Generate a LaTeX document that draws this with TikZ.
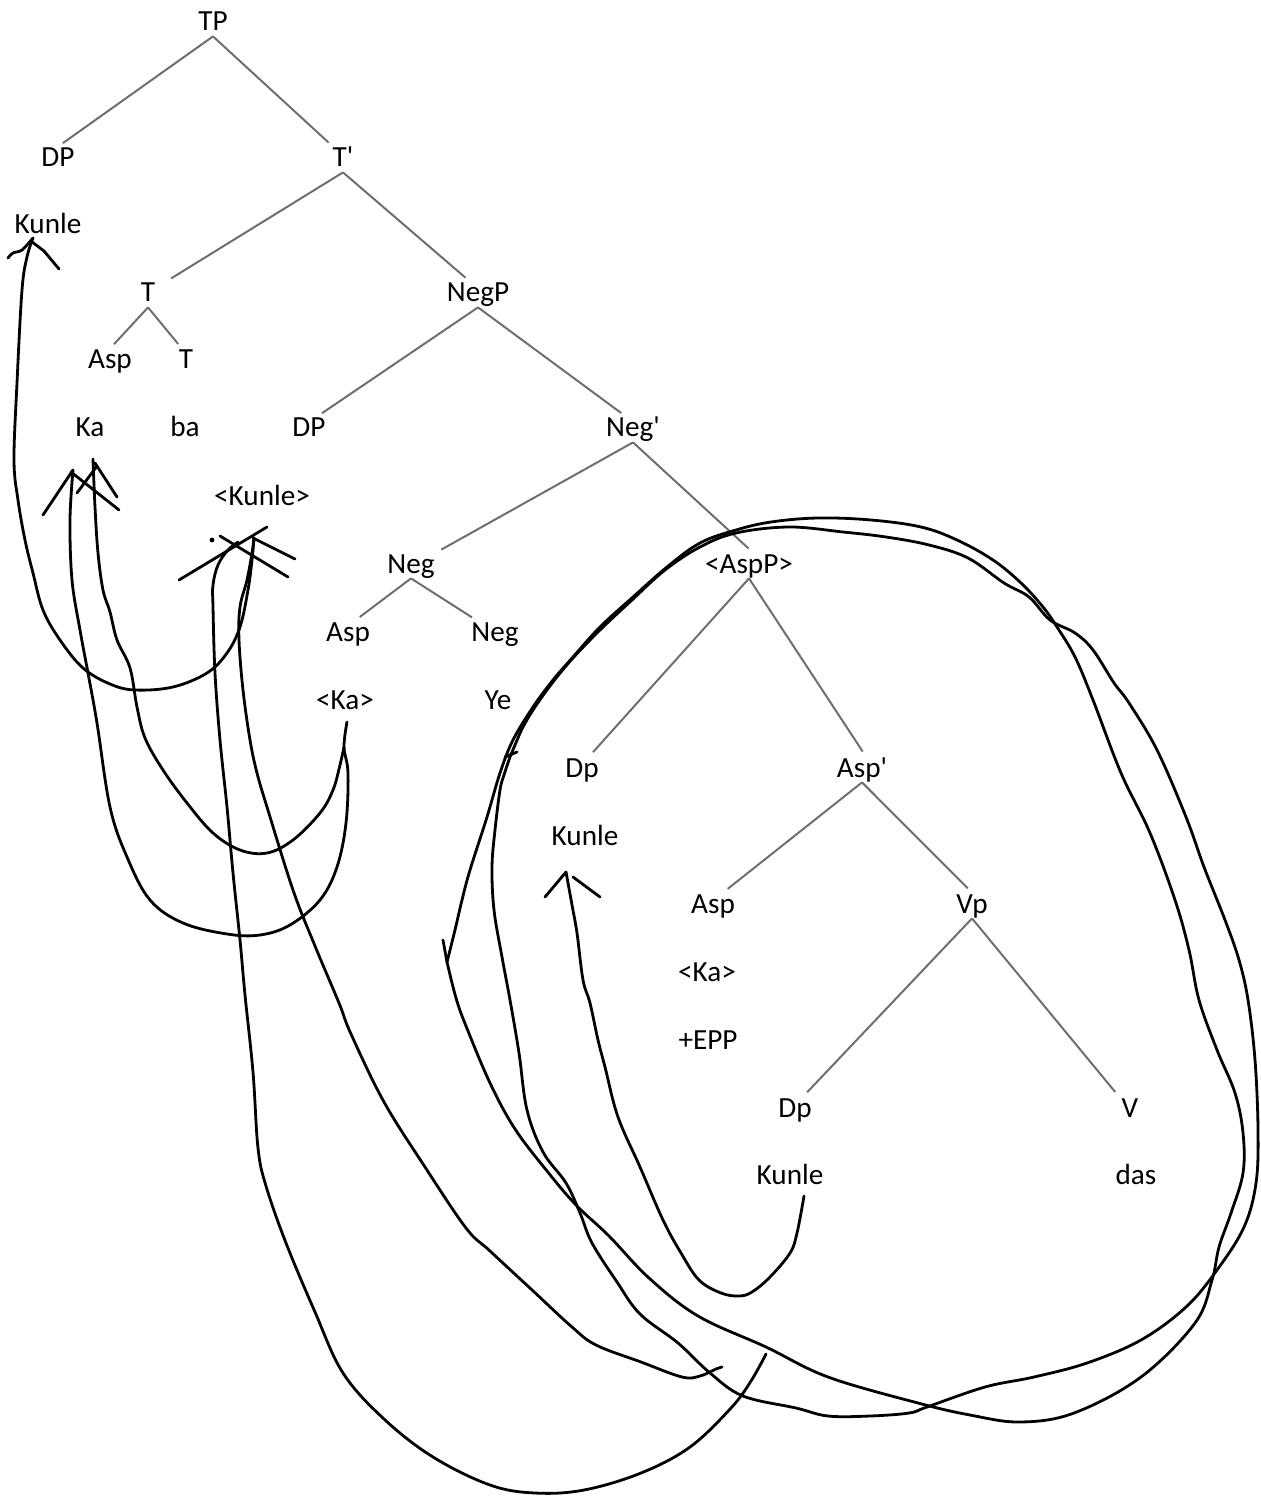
\documentclass[tikz,border=0pt]{standalone}
\usepackage{fontspec}
\setmainfont{Carlito}[Ligatures=TeXOff]
\definecolor{treegray}{RGB}{110,110,110}
\begin{document}
\begin{tikzpicture}[x=0.5pt,y=-0.5pt,
  lbl/.style={anchor=base,inner sep=0pt,text height=10pt,text depth=2.5pt,font=\fontsize{14.6pt}{17pt}\selectfont},
  edge/.style={draw=treegray,line width=1pt,shorten >=3pt},
  ink/.style={draw=black,line width=1.4pt,line cap=round,line join=round},
  curve/.style={ink}]
\useasboundingbox (0,0) rectangle (1261,1497);

% ---------- tree labels ----------
\node[lbl] (TP) at (213,31) {TP};
\node[lbl] (DP1) at (58,167) {DP};
\node[lbl] (Tbar) at (343,167) {T'};
\node[lbl] (Kunle1) at (48,234) {Kunle};
\node[lbl] (T1) at (148,302) {T};
\node[lbl] (NegP) at (478,302) {NegP};
\node[lbl] (Asp1) at (110,369) {Asp};
\node[lbl] (T2) at (186,369) {T};
\node[lbl] (Ka1) at (90,437) {Ka};
\node[lbl] (ba) at (185,437) {ba};
\node[lbl] (DP2) at (309,437) {DP};
\node[lbl] (Negbar) at (633,437) {Neg'};
\node[lbl] (Kunle2) at (262,505) {<Kunle>};
\node[lbl] (Neg1) at (411,573) {Neg};
\node[lbl] (AspP) at (749,573) {<AspP>};
\node[lbl] (Asp2) at (348,641) {Asp};
\node[lbl] (Neg2) at (495,641) {Neg};
\node[lbl] (Ka2) at (345,709) {<Ka>};
\node[lbl] (Ye) at (498,709) {Ye};
\node[lbl] (Dp3) at (582,777) {Dp};
\node[lbl] (Aspbar) at (862,777) {Asp'};
\node[lbl] (Kunle3) at (585,845) {Kunle};
\node[lbl] (Asp3) at (713,913) {Asp};
\node[lbl] (Vp) at (972,913) {Vp};
\node[lbl] (Ka3) at (707,981) {<Ka>};
\node[lbl] (EPP) at (708,1049) {+EPP};
\node[lbl] (Dp4) at (795,1117) {Dp};
\node[lbl] (V) at (1130,1117) {V};
\node[lbl] (Kunle4) at (790,1184) {Kunle};
\node[lbl] (das) at (1136,1184) {das};

% ---------- tree edges ----------
\draw[edge] (TP.south) -- (DP1.north);
\draw[edge] (TP.south) -- ([xshift=-5pt]Tbar.north);
\draw[edge] (Tbar.south) -- ([xshift=9pt]T1.north);
\draw[edge] (Tbar.south) -- ([xshift=-4pt]NegP.north);
\draw[edge] (T1.south) -- (Asp1.north);
\draw[edge] (T1.south) -- ([xshift=-2pt]T2.north);
\draw[edge] (NegP.south) -- ([xshift=4pt]DP2.north);
\draw[edge] (NegP.south) -- ([xshift=-3.5pt]Negbar.north);
\draw[edge] (Negbar.south) -- ([xshift=12.5pt]Neg1.north);
\draw[edge] (Negbar.south) -- ([xshift=2pt]AspP.north);
\draw[edge] (Neg1.south) -- ([xshift=3.5pt]Asp2.north);
\draw[edge] (Neg1.south) -- ([xshift=-9pt]Neg2.north);
\draw[edge] (AspP.south) -- ([xshift=3.5pt]Dp3.north);
\draw[edge] (AspP.south) -- ([xshift=2pt]Aspbar.north);
\draw[edge] (Aspbar.south) -- ([xshift=5pt]Asp3.north);
\draw[edge] (Aspbar.south) -- (Vp.north);
\draw[edge] (Vp.south) -- ([xshift=4pt]Dp4.north);
\draw[edge] (Vp.south) -- ([xshift=-5.5pt]V.north);

% ---------- hand-drawn movement curves ----------
\coordinate (tipKunleA) at (33,238);
\coordinate (tipKaA) at (73,470);
\coordinate (tipKaB) at (93,459);
\coordinate (tipTrace) at (254,538);
\coordinate (tipKaTrace) at (347,722);
\coordinate (tipKunleC) at (566,872);
\coordinate (cornerLoop) at (447,962);

% Kunle (subject) <-> <Kunle>
\draw[curve] plot[smooth,tension=0.6] coordinates {(tipKunleA) (27,257) (22,290) (17,383) (14,460) (18,500) (25,540) (33,573) (43,610) (60,640) (83,668) (110,684) (135,690) (173,687) (207,673) (227,653) (240,627) (248,590) (252,560) (tipTrace)};
\draw[ink] plot[smooth] coordinates {(8,258) (13,253) (22,250) (tipKunleA)};
\draw[ink] (32,242) -- (44,251) -- (59,269);

% Ka arrowheads
\draw[ink] (43,515) -- (tipKaA);
\draw[ink] (71,472) -- (119,510);
\draw[ink] (77,493) -- (97,466);
\draw[ink] (95,463) -- (117,497);

% Ka <-> <Ka> (two strokes)
\draw[curve] plot[smooth,tension=0.6] coordinates {(tipKaA) (70,520) (72,580) (80,630) (88,673) (97,723) (110,807) (127,857) (150,900) (183,923) (227,934) (260,935) (290,925) (320,900) (337,867) (346,823) (348,773) (344,747) (tipKaTrace)};
\draw[curve] plot[smooth,tension=0.6] coordinates {(tipKaB) (95,507) (98,553) (103,590) (110,612) (117,640) (130,668) (137,707) (145,738) (163,770) (187,803) (213,833) (240,850) (267,853) (293,840) (320,813) (333,790) (340,765) (344,747)};

% <Kunle> arrowheads
\draw[ink] (179,580) -- (267,527);
\draw[ink] (220,536) -- (288,577);
\draw[ink] (253,538) -- (295,559);
\fill (212,540) circle (1.2pt);

% long stroke from <Kunle> round the bottom
\draw[curve] plot[smooth,tension=0.6] coordinates {(238,542) (228,550) (218,565) (213,585) (213,607) (215,673) (220,740) (227,807) (233,873) (240,940) (245,995) (253,1072) (258,1148) (266,1186) (286,1243) (315,1312) (343,1373) (384,1419) (433,1457) (490,1485) (535,1493) (584,1490) (641,1473) (690,1447) (731,1408) (751,1381) (766,1354)};

% second stroke from <Kunle> ending in a hook
\draw[curve] plot[smooth,tension=0.6] coordinates {(tipTrace) (252,553) (247,580) (240,607) (239,640) (243,690) (250,740) (257,773) (267,807) (293,890) (315,946) (339,1003) (351,1034) (384,1102) (425,1167) (466,1228) (490,1251) (531,1289) (572,1327) (596,1345) (641,1362) (682,1377) (700,1376) (716,1369) (722,1367)};

% lower Kunle -> Kunle (Dp)
\draw[curve] plot[smooth,tension=0.6] coordinates {(tipKunleC) (572,905) (577,933) (583,980) (590,1003) (598,1040) (605,1067) (618,1117) (640,1167) (663,1220) (681,1253) (699,1280) (721,1293) (739,1296) (752,1292) (770,1277) (790,1253) (797,1233) (804,1196)};
\draw[ink] (545,897) -- (tipKunleC);
\draw[ink] (573,877) -- (600,897);

% loop 1
\draw[curve] plot[smooth,tension=0.6] coordinates {(cornerLoop) (455,930) (462,900) (470,870) (487,817) (500,773) (513,740) (533,707) (553,680) (573,657) (600,627) (633,597) (667,567) (700,543) (736,530) (771,522) (818,518) (871,520) (921,527) (957,540) (993,560) (1021,583) (1043,607) (1057,627) (1075,657) (1093,700) (1121,773) (1150,833) (1175,900) (1189,950) (1199,1000) (1217,1050) (1235,1093) (1243,1133) (1243,1173) (1231,1213) (1219,1247) (1212,1280) (1195,1323) (1141,1377) (1074,1413) (1020,1422) (970,1415) (918,1403) (828,1377) (766,1347) (698,1316) (649,1278) (609,1236) (576,1205) (547,1171) (515,1129) (490,1083) (466,1026) (456,998) (cornerLoop)};
\draw[ink] (443,940) -- (cornerLoop);

% loop 2
\draw[curve] plot[smooth,tension=0.6] coordinates {(510,757) (504,775) (500,790) (495,830) (492,867) (494,910) (502,957) (510,1000) (519,1053) (527,1110) (543,1152) (566,1183) (580,1213) (592,1243) (617,1282) (640,1314) (678,1343) (710,1373) (743,1396) (796,1408) (828,1416) (870,1416) (909,1413) (927,1407) (985,1387) (1034,1377) (1087,1363) (1141,1340) (1186,1307) (1217,1270) (1244,1227) (1256,1183) (1258,1130) (1255,1060) (1248,1000) (1239,960) (1225,920) (1204,867) (1186,817) (1157,750) (1129,703) (1114,683) (1093,650) (1075,633) (1050,620) (1029,597) (1004,583) (968,558) (929,545) (886,537) (843,532) (789,527) (736,533) (700,547) (665,570) (632,600) (600,630) (573,658) (553,682) (535,707) (523,727) (515,745) (510,757)};
\draw[ink] (505,757) -- (517,752);
\end{tikzpicture}
\end{document}
